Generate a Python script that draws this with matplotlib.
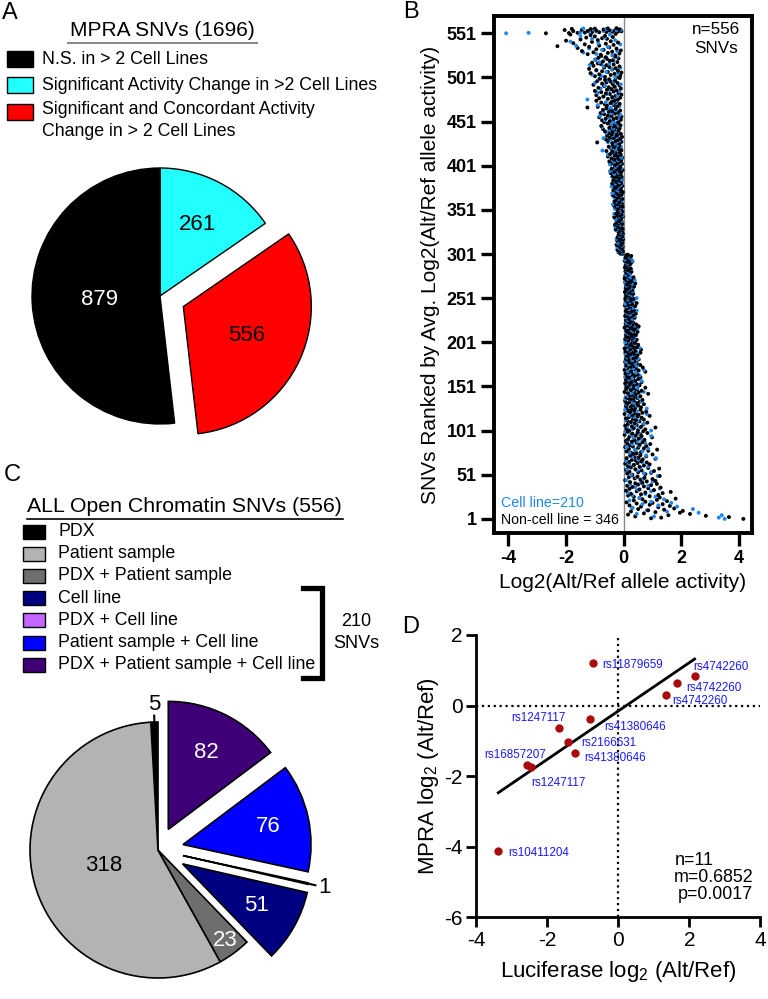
import numpy as np
import matplotlib.pyplot as plt
from matplotlib.patches import Rectangle

plt.rcParams['font.family'] = ['Liberation Sans', 'DejaVu Sans']
plt.rcParams['mathtext.fontset'] = 'custom'
plt.rcParams['mathtext.rm'] = 'Liberation Sans'
plt.rcParams['mathtext.it'] = 'Liberation Sans:italic'
plt.rcParams['axes.unicode_minus'] = False

# ---------------- panel A: MPRA SNVs ----------------
mpra_labels = ['N.S. in > 2 Cell Lines',
               'Significant Activity Change in >2 Cell Lines',
               'Significant and Concordant Activity\nChange in > 2 Cell Lines']
mpra_counts = [879, 261, 556]
mpra_colors = ['#000000', '#22ffff', '#ff0000']

# ---------------- panel C: open chromatin SNVs ----------------
oc_labels = ['PDX', 'Patient sample', 'PDX + Patient sample', 'Cell line',
             'PDX + Cell line', 'Patient sample + Cell line',
             'PDX + Patient sample + Cell line']
oc_counts = [5, 318, 23, 51, 1, 76, 82]
oc_colors = ['#000000', '#b3b3b3', '#6e6e6e', '#000080', '#c466ff', '#0000ff', '#3f0077']

# ---------------- panel B: ranked SNVs ----------------
# values read per band of 25 ranks, in 1/100 log2 units
band_start = [1, 26, 51, 76, 101, 126, 151, 176, 201, 226, 251, 276,
              301, 326, 351, 376, 401, 426, 451, 476, 501, 526, 551]
n_snv = 556
black_x = [
    [415, 95, 130, 365, 40, 285, 155, 15, 230, 70, 195, 110, 25, 205, 85, 140, 50, 175, 30, 120, 60, 160, 20, 90, 135, 45, 100, 10, 75, 150, 35, 115, 65, 180, 55, 125],
    [35, 90, 15, 120, 60, 25, 135, 75, 163, 45, 8, 105, 55, 20, 85, 128, 30, 70, 12, 95, 50, 115, 40, 65, 22, 80, 110, 5, 58, 100, 38, 72, 18, 48, 125, 28],
    [30, 75, 12, 95, 50, 20, 105, 62, 8, 40, 123, 85, 25, 55, 15, 70, 35, 90, 5, 48, 80, 18, 60, 42, 28, 66, 110, 10, 52, 38, 78, 22, 58, 100, 33, 45],
    [25, 60, 10, 85, 40, 116, 18, 70, 50, 5, 32, 78, 22, 55, 92, 12, 45, 65, 28, 8, 38, 72, 15, 52, 35, 98, 20, 62, 42, 3, 58, 30, 82, 48, 14, 68],
    [20, 50, 75, 10, 35, 110, 60, 28, 5, 45, 68, 15, 38, 82, 25, 55, 12, 42, 70, 32, 8, 62, 18, 48, 90, 30, 52, 3, 40, 65, 22, 78, 14, 36, 58, 26],
    [15, 40, 60, 25, 8, 50, 32, 70, 12, 45, 20, 55, 5, 35, 65, 28, 18, 48, 10, 38, 58, 22, 30, 42, 85, 14, 52, 3, 36, 62, 24, 46, 9, 33, 75, 19],
    [10, 35, 55, 20, 45, 5, 28, 62, 15, 40, 25, 8, 50, 32, 18, 58, 12, 38, 22, 48, 30, 6, 42, 16, 75, 26, 52, 3, 34, 44, 14, 66, 24, 36, 9, 57],
    [12, 30, 45, 20, 5, 38, 25, 15, 52, 8, 33, 42, 18, 27, 10, 48, 22, 36, 14, 58, 28, 6, 40, 17, 60, 24, 3, 35, 46, 11, 31, 19, 50, 26, 9, 39],
    [10, 25, 38, 15, 45, 5, 30, 20, 12, 35, 28, 8, 42, 18, 22, 33, 14, 48, 26, 9, 36, 17, 31, 40, 3, 24, 52, 13, 29, 44, 7, 21, 34, 16, 27, 11],
    [8, 20, 30, 12, 38, 16, 25, 5, 33, 18, 10, 42, 22, 14, 28, 7, 35, 19, 26, 11, 31, 15, 23, 40, 4, 17, 29, 9, 45, 21, 13, 34, 24, 6, 27, 36],
    [6, 15, 22, 10, 28, 18, 8, 33, 13, 25, 4, 20, 16, 30, 11, 24, 7, 19, 14, 36, 9, 27, 12, 21, 40, 17, 5, 23, 31, 10, 26, 15, 3, 20, 34, 12],
    [5, 12, 8, 18, 22, 10, 15, 27, 6, 20, 13, 9, 24, 17, 4, 11, 19, 14, 7, 21, 16, 25, 10, 12, 30, 3, 18, 8, 23, 15, 6, 20, 11, 26, 9, 14],
    [-5, -12, -8, -18, -3, -15, -10, -22, -6, -14, -9, -20, -4, -16, -11, -25, -7, -13, -19, -5, -17, -10, -23, -12, -2, -9, -15, -21, -6, -13, -8, -18, -11, -3, -16, -7],
    [-6, -15, -22, -10, -28, -4, -18, -12, -25, -8, -20, -14, -30, -5, -17, -24, -11, -7, -21, -13, -27, -9, -19, -16, -33, -3, -12, -23, -8, -15, -26, -10, -18, -5, -20, -14],
    [-8, -20, -30, -12, -25, -4, -16, -34, -10, -22, -6, -28, -14, -18, -32, -9, -24, -13, -5, -27, -19, -11, -30, -15, -38, -7, -21, -17, -26, -3, -12, -23, -36, -10, -16, -29],
    [-10, -25, -35, -5, -18, -30, -14, -40, -8, -22, -28, -12, -36, -6, -20, -32, -16, -26, -7, -38, -24, -11, -29, -19, -45, -9, -33, -15, -27, -4, -21, -42, -13, -31, -17, -23],
    [-12, -30, -45, -6, -22, -38, -15, -50, -9, -26, -34, -18, -42, -5, -28, -55, -20, -32, -10, -47, -24, -14, -36, -40, -60, -8, -27, -19, -44, -11, -33, -52, -16, -23, -38, -29],
    [-15, -40, -92, -8, -28, -55, -20, -62, -12, -35, -48, -6, -30, -58, -22, -42, -10, -52, -26, -38, -65, -18, -45, -33, -72, -14, -50, -24, -36, -78, -11, -44, -30, -56, -19, -68],
    [-18, -48, -75, -10, -35, -62, -25, -85, -8, -42, -55, -15, -68, -30, -80, -20, -52, -38, -12, -72, -45, -28, -60, -126, -90, -22, -58, -34, -65, -14, -46, -78, -26, -40, -95, -32],
    [-20, -55, -85, -12, -40, -70, -28, -95, -8, -48, -62, -18, -78, -35, -100, -25, -58, -42, -10, -88, -52, -32, -68, -15, -105, -38, -75, -22, -60, -45, -92, -30, -65, -50, -82, -14],
    [-25, -65, -100, -12, -45, -85, -32, -115, -8, -55, -75, -20, -95, -40, -120, -28, -68, -50, -15, -105, -60, -35, -80, -90, -110, -22, -72, -48, -38, -98, -58, -18, -88, -62, -30, -78],
    [-30, -80, -125, -15, -55, -105, -40, -145, -10, -70, -95, -25, -160, -50, -120, -230, -85, -35, -135, -62, -175, -20, -110, -45, -200, -90, -150, -58, -75, -130, -38, -100, -65, -115, -185, -28],
    [-270, -190, -160, -135, -110, -85, -60, -40, -20, -8, -175, -125, -95, -50, -30, -205, -145, -70, -15, -115, -180, -100, -55, -25],
]
blue_x = [
    [350, 330, 105, 340, 45, 260, 150, 80, 240, 30, 185, 120, 65, 165, 95, 20, 140, 55],
    [110, 30, 75, 15, 95, 50, 125, 40, 85, 22, 60, 100, 10, 68, 45, 118],
    [25, 70, 95, 45, 12, 58, 85, 35, 20, 65, 8, 50, 112, 30, 78, 40],
    [20, 65, 40, 85, 10, 55, 30, 75, 48, 15, 60, 35, 95, 25, 52, 5],
    [95, 30, 55, 12, 40, 70, 22, 48, 8, 62, 35, 18, 80, 26, 45, 5],
    [80, 20, 45, 10, 35, 62, 28, 5, 52, 15, 40, 25, 70, 32, 8, 48],
    [25, 48, 10, 38, 62, 18, 30, 5, 55, 20, 42, 14, 70, 33, 8, 45],
    [18, 40, 8, 30, 50, 12, 25, 35, 5, 45, 22, 15, 55, 28, 10, 38],
    [5, 20, 35, 12, 28, 42, 16, 8, 32, 24, 48, 14, 38, 22, 10, 30],
    [15, 30, 8, 38, 22, 12, 27, 45, 18, 33, 10, 25, 5, 20, 35, 14],
    [45, 12, 25, 18, 8, 31, 15, 22, 35, 10, 28, 20, 5, 38, 14, 24],
    [14, 8, 22, 18, 11, 26, 6, 16, 20, 12, 9, 30, 4, 24, 15, 10],
    [-10, -4, -18, -8, -14, -22, -6, -12, -20, -16, -9, -25, -3, -15, -11, -7],
    [-12, -25, -6, -18, -30, -10, -22, -15, -8, -28, -20, -14, -4, -33, -16, -11],
    [-15, -30, -8, -22, -38, -12, -26, -5, -18, -33, -10, -24, -40, -14, -20, -28],
    [-20, -42, -10, -30, -15, -36, -6, -25, -40, -12, -32, -18, -48, -22, -8, -28],
    [-25, -48, -12, -35, -20, -42, -8, -30, -55, -16, -38, -74, -28, -45, -10, -22],
    [-30, -55, -15, -45, -70, -22, -38, -10, -60, -28, -50, -35, -75, -18, -42, -25],
    [-35, -65, -20, -50, -82, -12, -42, -72, -28, -58, -45, -15, -90, -38, -62, -25],
    [-126, -40, -72, -22, -58, -90, -15, -48, -80, -30, -65, -10, -100, -35, -55, -85],
    [-30, -78, -110, -20, -60, -95, -42, -12, -70, -118, -50, -85, -35, -100, -65, -25],
    [-40, -95, -140, -22, -75, -120, -55, -165, -12, -88, -185, -30, -110, -65, -150, -48],
    [-408, -330, -150, -120, -95, -70, -45, -25, -10, -105, -60, -140],
]

# ---------------- panel D: luciferase vs MPRA ----------------
luc = [-0.70, 2.15, 1.65, 1.34, -0.80, -1.67, -1.43, -1.22, -2.58, -2.45, -3.38]
mpra = [1.20, 0.85, 0.63, 0.30, -0.37, -0.63, -1.03, -1.33, -1.67, -1.75, -4.12]
snv_ids = ['rs11879659', 'rs4742260', 'rs4742260', 'rs4742260', 'rs41380646', 'rs1247117',
           'rs2166631', 'rs41380646', 'rs16857207', 'rs1247117', 'rs10411204']
slope = 0.6852
# label placement (offset in points, horizontal alignment)
lab_off = [(6.5, -1.2, 'left'), (-1, 6, 'left'), (6.7, -3.6, 'left'), (4.5, -4.1, 'left'),
           (10, -5.8, 'left'), (4.8, 7, 'right'), (9.8, -0.9, 'left'), (6.5, -4, 'left'),
           (-8.6, 7, 'center'), (-0.4, -11, 'left'), (7, -1.2, 'left')]

W, H = 768, 999
fig = plt.figure(figsize=(W / 100, H / 100), dpi=100)

# overlay in pixel coordinates for titles / legends
ov = fig.add_axes([0, 0, 1, 1])
ov.set_xlim(0, W)
ov.set_ylim(H, 0)
ov.axis('off')


def px_axes(cx, cy, size):
    return fig.add_axes([(cx - size / 2) / W, 1 - (cy + size / 2) / H, size / W, size / H])


def wedge_text(ax, w, txt, r, color, fs=16):
    ang = np.deg2rad((w.theta1 + w.theta2) / 2)
    cx, cy = w.center
    ax.text(cx + r * np.cos(ang), cy + r * np.sin(ang), txt, color=color, fontsize=fs,
            ha='center', va='center')


def leader(ax, w, r0, r1):
    ang = np.deg2rad((w.theta1 + w.theta2) / 2)
    cx, cy = w.center
    ax.plot([cx + r0 * np.cos(ang), cx + r1 * np.cos(ang)],
            [cy + r0 * np.sin(ang), cy + r1 * np.sin(ang)], color='black', lw=1.5)


# ---- panel A
ov.text(10, 13, 'A', fontsize=17, ha='center', va='center')
ov.text(162, 31, 'MPRA SNVs (1696)', fontsize=15, ha='center', va='center')
ov.plot([68, 257], [43, 43], color='#8c8c8c', lw=1.5)
for i, (lab, col) in enumerate(zip(mpra_labels, mpra_colors)):
    y0 = [51, 77, 104][i]
    ov.add_patch(Rectangle((7, y0), 26, 16, facecolor=col, edgecolor='black', lw=1))
    for j, line in enumerate(lab.split('\n')):
        ov.text(42, [59, 85, 110][i] + 22 * j, line, fontsize=12.8, va='center')

R = 128
axA = px_axes(160, 296, 360)
order = [1, 2, 0]  # cyan, red, black clockwise from the top
wedges, _ = axA.pie([mpra_counts[k] for k in order], colors=[mpra_colors[k] for k in order],
                    startangle=90, counterclock=False, explode=[0, 0.2, 0],
                    wedgeprops=dict(edgecolor='black', linewidth=1))
lim = 180 / R
axA.set_xlim(-lim, lim)
axA.set_ylim(-lim, lim)
for w, k, r in zip(wedges, order, [0.63, 0.54, 0.47]):
    wedge_text(axA, w, str(mpra_counts[k]), r, 'white' if k == 0 else 'black')

# ---- panel C
ov.text(12, 475, 'C', fontsize=17, ha='center', va='center')
ov.text(27, 506, 'ALL Open Chromatin SNVs (556)', fontsize=15.3, ha='left', va='center')
ov.plot([27, 343], [519, 519], color='black', lw=1.2)
for i, (lab, col) in enumerate(zip(oc_labels, oc_colors)):
    yc = 531.5 + 22.2 * i
    ov.add_patch(Rectangle((23, yc - 7), 22, 14, facecolor=col, edgecolor='black', lw=1))
    ov.text(58, yc, lab, fontsize=12.8, va='center')
ov.plot([303, 322, 322, 303], [588, 588, 678, 678], color='black', lw=3.8,
        solid_joinstyle='miter')
ov.text(356, 622, '210', fontsize=13, ha='center', va='center')
ov.text(356, 643, 'SNVs', fontsize=13, ha='center', va='center')

axC = px_axes(158, 850, 380)
wedges, _ = axC.pie(oc_counts, colors=oc_colors, startangle=90, counterclock=True,
                    explode=[0, 0, 0, 0.22, 0.2, 0.2, 0.18],
                    wedgeprops=dict(edgecolor='black', linewidth=1.2))
lim = 190 / R
axC.set_xlim(-lim, lim)
axC.set_ylim(-lim, lim)
dists = [1.14, 0.44, 0.88, 0.66, 1.13, 0.68, 0.67]
tcols = ['black', 'black', 'white', 'white', 'black', 'white', 'white']
for w, n, r, c in zip(wedges, oc_counts, dists, tcols):
    wedge_text(axC, w, str(n), r, c)
leader(axC, wedges[0], 1.0, 1.05)
leader(axC, wedges[4], 0.99, 1.06)

# ---- panel B
ov.text(411, 12, 'B', fontsize=17, ha='center', va='center')
axB = fig.add_axes([494 / W, 1 - 533 / H, 258 / W, 517 / H])
for k, s in enumerate(band_start):
    length = (band_start[k + 1] if k + 1 < len(band_start) else n_snv + 1) - s
    xs, ys, cs = [], [], []
    for vals, col in ((black_x[k], 'black'), (blue_x[k], '#1e88f0')):
        xs += [v / 100 for v in vals]
        ys += list(s + np.arange(len(vals)) * length / len(vals))
        cs += [col] * len(vals)
    idx = np.argsort(ys)  # draw in rank order so the two groups interleave
    axB.scatter(np.array(xs)[idx], np.array(ys)[idx], s=8, c=np.array(cs)[idx],
                linewidths=0, zorder=3)
axB.axvline(0, color='#8a8a8a', lw=1, zorder=2)
axB.set_xlim(-4.5, 4.45)
axB.set_ylim(-15, 570.6)
axB.set_yticks(np.arange(1, 552, 50))
axB.set_xticks([-4, -2, 0, 2, 4])
for sp in axB.spines.values():
    sp.set_linewidth(2.8)
axB.tick_params(width=2.4, length=9.4, labelsize=13, pad=3)
for t in axB.get_xticklabels() + axB.get_yticklabels():
    t.set_fontweight('bold')
axB.set_xlabel('Log2(Alt/Ref allele activity)', fontsize=15, labelpad=4)
axB.set_ylabel('SNVs Ranked by Avg. Log2(Alt/Ref allele activity)', fontsize=15, labelpad=5)
axB.text(0.86, 0.955, 'n=556\nSNVs', transform=axB.transAxes, fontsize=12.3,
         ha='center', va='center', linespacing=1.3)
axB.text(0.026, 0.058, 'Cell line=210', transform=axB.transAxes, fontsize=10.2,
         color='#1e88f0', va='center')
axB.text(0.026, 0.025, 'Non-cell line = 346', transform=axB.transAxes, fontsize=10.2,
         va='center')

# ---- panel D
ov.text(411, 627, 'D', fontsize=17, ha='center', va='center')
axD = fig.add_axes([476.3 / W, 1 - 917.3 / H, 284 / W, 282.3 / H])
axD.axhline(0, color='black', ls=':', lw=1.6, zorder=1)
axD.axvline(0, color='black', ls=':', lw=1.6, zorder=1)
lx = np.array(luc)
ly = np.array(mpra)
b = ly.mean() - slope * lx.mean()
xx = np.array([lx.min(), lx.max()])
axD.plot(xx, slope * xx + b, color='black', lw=2, zorder=2)
axD.scatter(lx, ly, s=36, color='#a80c0c', zorder=3, linewidths=0)
for x, y, name, (dx, dy, ha) in zip(luc, mpra, snv_ids, lab_off):
    axD.annotate(name, (x, y), xytext=(dx, dy), textcoords='offset points',
                 fontsize=8.4, color='#1a1aff', ha=ha, va='center')
axD.set_xlim(-4, 4)
axD.set_ylim(-6, 2)
axD.set_xticks([-4, -2, 0, 2, 4])
axD.set_yticks([-6, -4, -2, 0, 2])
axD.spines['top'].set_visible(False)
axD.spines['right'].set_visible(False)
for sp in ('left', 'bottom'):
    axD.spines[sp].set_linewidth(2)
axD.tick_params(width=2, length=7, labelsize=15, pad=3)
axD.set_xlabel('Luciferase log$_2$ (Alt/Ref)', fontsize=16, labelpad=6)
axD.set_ylabel('MPRA log$_2$ (Alt/Ref)', fontsize=16, labelpad=2)
axD.text(0.70, 0.20, 'n=11', transform=axD.transAxes, fontsize=12.9, va='center')
axD.text(0.695, 0.14, 'm=0.6852', transform=axD.transAxes, fontsize=12.9, va='center')
axD.text(0.71, 0.08, 'p=0.0017', transform=axD.transAxes, fontsize=12.9, va='center')

fig.savefig('out.png', dpi=100)
